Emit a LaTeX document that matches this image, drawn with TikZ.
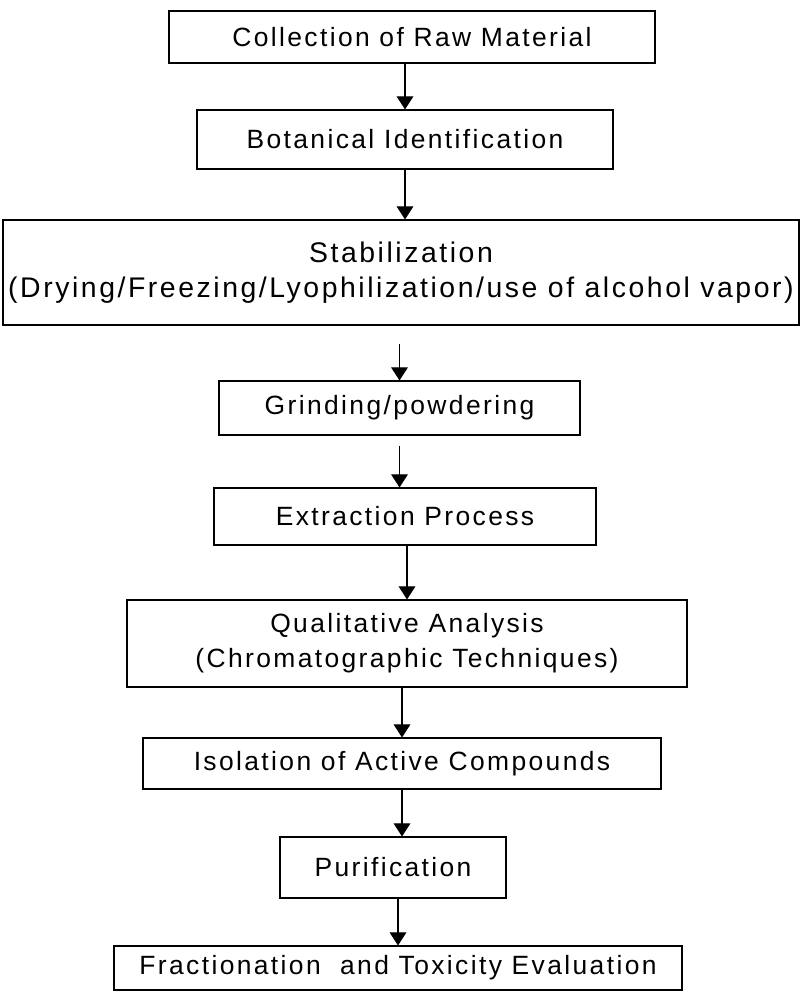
\documentclass[tikz,border=0pt]{standalone}
\usepackage{fontspec}
\setmainfont{Liberation Sans}[LetterSpace=9]
\usetikzlibrary{arrows.meta}

\begin{document}
\begin{tikzpicture}[scale=0.25]
\tikzstyle{every node}+=[inner sep=0pt]
\tikzstyle{box}=[draw=black, line width=0.75pt, align=center, font=\fontsize{18.8}{25}\selectfont]
\tikzstyle{arw}=[black, line width=0.75pt, -{Triangle[length=0.33cm,width=0.42cm]}]
\useasboundingbox (0,0) rectangle (80.2,-100.5);
\node [box, minimum width=12.15cm, minimum height=1.3cm] (coll) at (41.2,-3.7) {Collection of Raw Material};
\node [box, minimum width=10.4cm, minimum height=1.475cm] (bot) at (40.5,-13.95) {Botanical Identification};
\node [box, minimum width=19.9cm, minimum height=2.625cm, font=\fontsize{20.2}{25}\selectfont] (stab) at (40.1,-27.25) {Stabilization\\(Drying/Freezing/Lyophilization/use of alcohol vapor)};
\node [box, minimum width=9.025cm, minimum height=1.35cm] (grind) at (39.95,-40.8) {Grinding/powdering};
\node [box, minimum width=9.55cm, minimum height=1.425cm] (extr) at (40.5,-51.65) {Extraction Process};
\node [box, minimum width=14cm, minimum height=2.175cm] (qual) at (40.7,-64.35) {Qualitative Analysis\\(Chromatographic Techniques)};
\node [box, minimum width=12.95cm, minimum height=1.275cm] (iso) at (40.2,-76.35) {Isolation of Active Compounds};
\node [box, minimum width=5.65cm, minimum height=1.525cm] (pur) at (39.3,-86.75) {Purification};
\node [box, minimum width=14.2cm, minimum height=1.1cm] (frac) at (39.8,-96.8) {Fractionation~ and Toxicity Evaluation};
% arrows
\draw [arw] (coll.south -| bot.north) -- (bot.north);
\draw [arw] (bot.south) -- (stab.north -| bot.south);
\draw [arw, shorten <=0.45cm] (stab.south -| grind.north) -- (grind.north);
\draw [arw, shorten <=0.25cm] (grind.south) -- (extr.north -| grind.south);
\draw [arw] (extr.south -| qual.north) -- (qual.north);
\draw [arw] (qual.south -| iso.north) -- (iso.north);
\draw [arw] (iso.south) -- (pur.north -| iso.south);
\draw [arw] (pur.south -| frac.north) -- (frac.north);
\end{tikzpicture}
\end{document}
